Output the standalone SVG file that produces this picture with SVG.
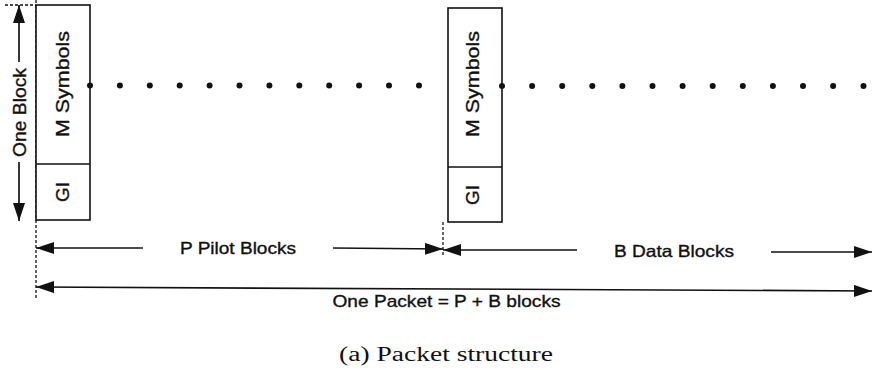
<svg xmlns="http://www.w3.org/2000/svg" width="872" height="370" viewBox="0 0 872 370">
<style>
.box{fill:#fff;stroke:#111;stroke-width:1.6}
.lbl{font-family:"Liberation Sans",Arial,sans-serif;fill:#111;stroke:#111;stroke-width:0.35;text-anchor:middle}
.cap{font-family:"Liberation Serif","DejaVu Serif",serif;fill:#111;text-anchor:middle}
.ln{stroke:#111;stroke-width:1.7;fill:none}
.dash{stroke:#111;stroke-width:1.3;stroke-dasharray:3,2;fill:none}
.dot{fill:#111}
</style>
<defs>
<marker id="ah" viewBox="0 0 18 12" refX="18" refY="6" markerWidth="18" markerHeight="12" markerUnits="userSpaceOnUse" orient="auto-start-reverse">
<path d="M0,0 L18,6 L0,12 z" fill="#111"/>
</marker>
</defs>
<g id="guides">
<line class="dash" x1="36" y1="0" x2="36" y2="300"/>
<line class="dash" x1="5" y1="5" x2="36" y2="5"/>
<line class="dash" x1="443" y1="222" x2="443" y2="256"/>
</g>
<g id="block1">
<rect class="box" x="36" y="5" width="54" height="215"/>
<line class="ln" x1="36" y1="164" x2="90" y2="164"/>
<text class="lbl" font-size="18.5" textLength="106" lengthAdjust="spacingAndGlyphs" transform="translate(69,84) rotate(-90)">M Symbols</text>
<text class="lbl" font-size="18.5" textLength="20" lengthAdjust="spacingAndGlyphs" transform="translate(69,192) rotate(-90)">GI</text>
</g>
<g id="block2">
<rect class="box" x="448" y="8" width="54" height="214"/>
<line class="ln" x1="448" y1="167" x2="502" y2="167"/>
<text class="lbl" font-size="18.5" textLength="106" lengthAdjust="spacingAndGlyphs" transform="translate(478.5,84) rotate(-90)">M Symbols</text>
<text class="lbl" font-size="18.5" textLength="20" lengthAdjust="spacingAndGlyphs" transform="translate(478.5,195) rotate(-90)">GI</text>
</g>
<g id="dots1">
<circle class="dot" cx="90" cy="85.5" r="3"/>
<circle class="dot" cx="119.9" cy="85.5" r="3"/>
<circle class="dot" cx="149.8" cy="85.5" r="3"/>
<circle class="dot" cx="179.7" cy="85.5" r="3"/>
<circle class="dot" cx="209.6" cy="85.5" r="3"/>
<circle class="dot" cx="239.5" cy="85.5" r="3"/>
<circle class="dot" cx="269.4" cy="85.5" r="3"/>
<circle class="dot" cx="299.3" cy="85.5" r="3"/>
<circle class="dot" cx="329.2" cy="85.5" r="3"/>
<circle class="dot" cx="359.1" cy="85.5" r="3"/>
<circle class="dot" cx="389" cy="85.5" r="3"/>
<circle class="dot" cx="419" cy="85.5" r="3"/>
</g>
<g id="dots2">
<circle class="dot" cx="502" cy="86" r="3"/>
<circle class="dot" cx="532.1" cy="86" r="3"/>
<circle class="dot" cx="562.2" cy="86" r="3"/>
<circle class="dot" cx="592.3" cy="86" r="3"/>
<circle class="dot" cx="622.4" cy="86" r="3"/>
<circle class="dot" cx="652.5" cy="86" r="3"/>
<circle class="dot" cx="682.6" cy="86" r="3"/>
<circle class="dot" cx="712.7" cy="86" r="3"/>
<circle class="dot" cx="742.8" cy="86" r="3"/>
<circle class="dot" cx="772.9" cy="86" r="3"/>
<circle class="dot" cx="803" cy="86" r="3"/>
<circle class="dot" cx="833.1" cy="86" r="3"/>
<circle class="dot" cx="863.5" cy="86" r="3"/>
</g>
<g id="connectors">
<line class="ln" x1="19" y1="62" x2="19" y2="5" marker-end="url(#ah)"/>
<line class="ln" x1="19" y1="162" x2="19" y2="221" marker-end="url(#ah)"/>
<line class="ln" x1="143" y1="248" x2="36" y2="248" marker-end="url(#ah)"/>
<line class="ln" x1="333" y1="248" x2="443" y2="249" marker-end="url(#ah)"/>
<line class="ln" x1="577" y1="250" x2="443" y2="250" marker-end="url(#ah)"/>
<line class="ln" x1="771" y1="252" x2="872" y2="252" marker-end="url(#ah)"/>
<line class="ln" x1="36" y1="287" x2="872" y2="291" marker-start="url(#ah)" marker-end="url(#ah)"/>
</g>
<g id="labels">
<text class="lbl" font-size="17.5" textLength="89" lengthAdjust="spacingAndGlyphs" transform="translate(25.5,112.5) rotate(-90)">One Block</text>
<text class="lbl" x="238" y="254" font-size="16.5" textLength="116" lengthAdjust="spacingAndGlyphs">P Pilot Blocks</text>
<text class="lbl" x="674" y="256.5" font-size="16.5" textLength="120" lengthAdjust="spacingAndGlyphs">B Data Blocks</text>
<text class="lbl" x="446.5" y="307" font-size="17" textLength="228" lengthAdjust="spacingAndGlyphs">One Packet = P + B blocks</text>
<text class="cap" x="446" y="361" font-size="20.5" textLength="214" lengthAdjust="spacingAndGlyphs">(a) Packet structure</text>
</g>
</svg>
